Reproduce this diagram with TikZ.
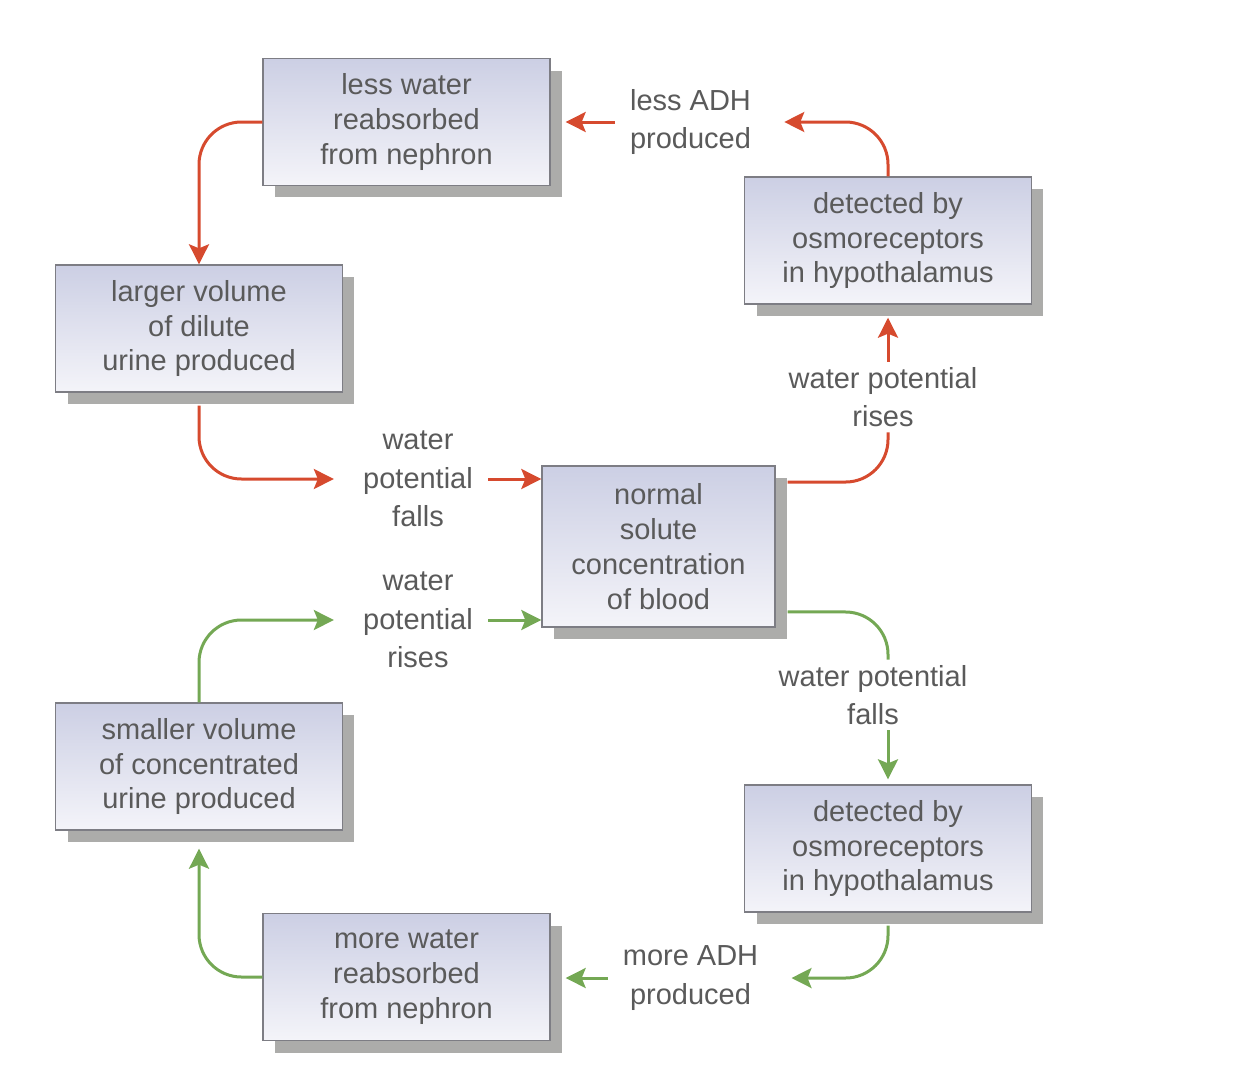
\documentclass[tikz,border=0pt]{standalone}
\usepackage{fontspec}
\setmainfont{Liberation Sans}
\usepackage{xcolor}
\usetikzlibrary{arrows.meta, shadows}

\definecolor{boxtop}{RGB}{204,207,228}
\definecolor{boxbot}{RGB}{244,244,249}
\definecolor{boxline}{RGB}{125,125,132}
\definecolor{shadowgray}{RGB}{172,172,170}
\definecolor{txtgray}{RGB}{90,90,90}
\definecolor{arrowred}{RGB}{214,74,46}
\definecolor{arrowgreen}{RGB}{116,168,84}

\begin{document}
\begin{tikzpicture}[x=0.02cm, y=-0.02cm,
    box/.style={draw=boxline, line width=0.8pt, top color=boxtop, bottom color=boxbot,
        minimum width=5.74cm, minimum height=2.54cm, align=center, text=txtgray,
        font=\fontsize{16.5}{19.8}\selectfont,
        drop shadow={shadow xshift=0.24cm, shadow yshift=-0.24cm, fill=shadowgray, opacity=1}},
    lbl/.style={align=center, text=txtgray, font=\fontsize{16.5}{22}\selectfont,
        inner xsep=0.3cm, inner ysep=0.1cm},
    redarrow/.style={draw=arrowred, line width=0.06cm, rounded corners=0.85cm,
        -{Stealth[length=0.4cm, width=0.4cm, inset=0.08cm]}},
    greenarrow/.style={draw=arrowgreen, line width=0.06cm, rounded corners=0.85cm,
        -{Stealth[length=0.4cm, width=0.4cm, inset=0.08cm]}}
]
    \useasboundingbox (0,0) rectangle (1236,1072);

    % Boxes
    \node[box] (lessWater) at (406.5,122) {less water\\reabsorbed\\from nephron};
    \node[box] (diluteUrine) at (199,328.5) {larger volume\\of dilute\\urine produced};
    \node[box] (osmoTop) at (888,240.5) {detected by\\osmoreceptors\\in hypothalamus};
    \node[box, minimum width=4.66cm, minimum height=3.22cm] (normal) at (658.5,546.5)
        {normal\\solute\\concentration\\of blood};
    \node[box] (concUrine) at (199,766.5) {smaller volume\\of concentrated\\urine produced};
    \node[box] (osmoBot) at (888,848.5) {detected by\\osmoreceptors\\in hypothalamus};
    \node[box] (moreWater) at (406.5,977) {more water\\reabsorbed\\from nephron};

    % Labels
    \node[lbl] (lessADH) at (690.5,122) {less ADH\\produced};
    \node[lbl] (wpRiseTop) at (883,397) {water potential\\rises};
    \node[lbl] (wpFallLeft) at (418,479) {water\\potential\\falls};
    \node[lbl] (wpRiseLeft) at (418,620) {water\\potential\\rises};
    \node[lbl] (wpFallRight) at (873,695) {water potential\\falls};
    \node[lbl] (moreADH) at (690.5,978) {more ADH\\produced};

    % Flow (too much water)
    \draw[redarrow] (lessWater.west) -| (diluteUrine.north);
    \draw[redarrow, shorten <=0.26cm, shorten >=0.28cm] (diluteUrine.south) |- (wpFallLeft.west);
    \draw[redarrow] (wpFallLeft.east) -- (wpFallLeft.east -| normal.west);
    \draw[redarrow, -, shorten <=0.24cm] ([yshift=1.29cm]normal.east) -| (osmoTop.south |- wpRiseTop.south);
    \draw[redarrow, shorten >=0.26cm] (osmoTop.south |- wpRiseTop.north) -- (osmoTop.south);
    \draw[redarrow, shorten >=0.36cm] (osmoTop.north) |- (lessADH.east);
    \draw[redarrow, shorten >=0.3cm] (lessADH.west) -- (lessADH.west -| lessWater.east);

    % Flow (too little water)
    \draw[greenarrow, -, shorten <=0.24cm] ([yshift=-1.31cm]normal.east) -| (osmoBot.north |- wpFallRight.north);
    \draw[greenarrow, shorten >=0.1cm] (osmoBot.north |- wpFallRight.south) -- (osmoBot.north);
    \draw[greenarrow, shorten <=0.26cm, shorten >=0.36cm] (osmoBot.south) |- (moreADH.east);
    \draw[greenarrow, shorten >=0.3cm] (moreADH.west) -- (moreADH.west -| moreWater.east);
    \draw[greenarrow, shorten >=0.36cm] (moreWater.west) -| (concUrine.south);
    \draw[greenarrow, shorten >=0.28cm] (concUrine.north) |- (wpRiseLeft.west);
    \draw[greenarrow] (wpRiseLeft.east) -- (wpRiseLeft.east -| normal.west);

\end{tikzpicture}
\end{document}
